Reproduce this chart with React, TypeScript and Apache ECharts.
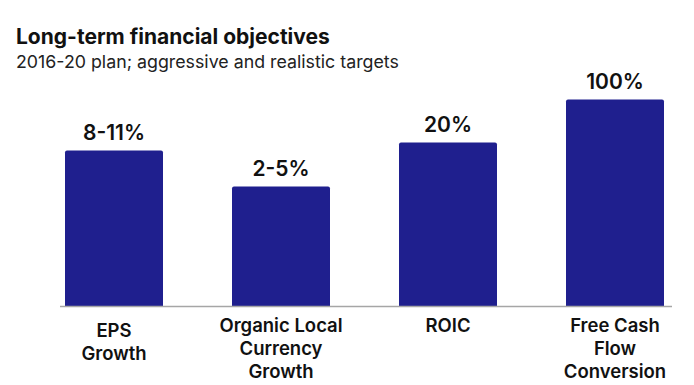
import React, { useEffect, useRef } from "react";
import * as echarts from "echarts";

const categories = ["EPS\nGrowth", "Organic Local\nCurrency\nGrowth", "ROIC", "Free Cash\nFlow\nConversion"];
// visual bar heights as drawn in the picture (not to scale with targets)
const barHeights = [156, 120, 164, 207];
const targetLabels = ["8-11%", "2-5%", "20%", "100%"];

const FONT = "Inter, 'Noto Sans', sans-serif";

export default function App() {
  const ref = useRef<HTMLDivElement>(null);
  useEffect(() => {
    if (!ref.current) return;
    const chart = echarts.init(ref.current, null, { renderer: "svg" });
    chart.setOption({
      animation: false,
      backgroundColor: "#ffffff",
      textStyle: { fontFamily: FONT },
      title: {
        text: "Long-term financial objectives",
        subtext: "2016-20 plan; aggressive and realistic targets",
        left: 11,
        top: 21,
        itemGap: 5,
        textStyle: { fontFamily: FONT, fontSize: 21, fontWeight: 700, color: "#111111" },
        subtextStyle: { fontFamily: FONT, fontSize: 17.8, fontWeight: 400, color: "#222222" },
      },
      grid: { left: 30.5, width: 668, top: 99.5, height: 207, outerBoundsMode: "none", containLabel: false },
      xAxis: {
        type: "category",
        data: categories.map((c, i) =>
          i === 0 ? { value: c, textStyle: { padding: [5, 0, 0, 0] } } : c
        ),
        axisLine: { show: false },
        axisTick: { show: false },
        axisLabel: {
          interval: 0,
          margin: 7,
          fontFamily: FONT,
          fontSize: 18.5,
          fontWeight: 600,
          lineHeight: 23,
          color: "#111111",
          verticalAlign: "top",
        },
      },
      yAxis: {
        type: "value",
        min: 0,
        max: 207,
        show: false,
        splitLine: { show: false },
      },
      series: [
        {
          type: "bar",
          data: barHeights,
          barWidth: 98,
          itemStyle: { color: "#1f1f8e", borderRadius: [2, 2, 0, 0] },
          label: {
            show: true,
            position: "top",
            distance: 8,
            fontFamily: FONT,
            fontSize: 21,
            fontWeight: 600,
            color: "#111111",
            formatter: (p: any) => targetLabels[p.dataIndex],
          },
        },
      ],
      graphic: [
        {
          type: "line",
          shape: { x1: 60, y1: 306.5, x2: 672, y2: 306.5 },
          style: { stroke: "#a6a6a6", lineWidth: 1.5 },
          z: 10,
        },
      ],
    });
    return () => chart.dispose();
  }, []);
  return <div ref={ref} style={{ position: "fixed", left: 0, top: 0, width: 694, height: 385 }} />;
}
